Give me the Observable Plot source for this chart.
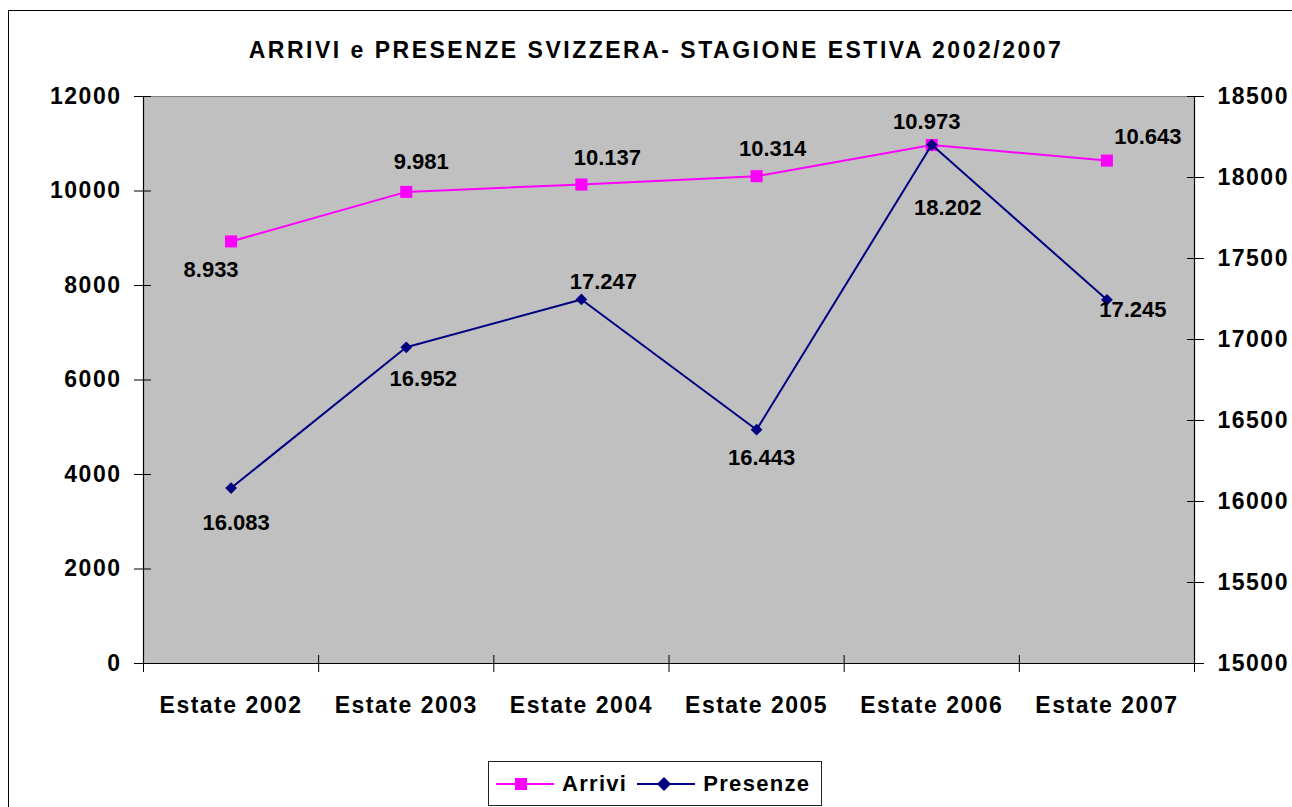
<!DOCTYPE html>
<html>
<head>
<meta charset="utf-8">
<script src="https://cdn.jsdelivr.net/npm/d3@7"></script>
<script src="https://cdn.jsdelivr.net/npm/@observablehq/plot@0.6"></script>
<style>
  html, body { margin: 0; padding: 0; background: #fff; overflow: hidden; width: 1292px; height: 807px; }
  #page { position: relative; width: 1292px; height: 807px; font-family: "Liberation Sans", Arial, sans-serif; }
  #chart { position: absolute; left: 0; top: 0; z-index: 1; }
  .edge { position: absolute; background: #000; z-index: 2; }
  #edgeLeft { left: 8px; top: 10px; width: 1px; height: 800px; }
  #edgeTop { left: 8px; top: 10px; width: 1290px; height: 1px; }
  #title { position: absolute; left: 0; top: 36px; width: 1312px; height: 28px; line-height: 28px; text-align: center; font-size: 23px; font-weight: bold; letter-spacing: 2.5px; color: #000; z-index: 2; }
  #chart g[aria-label$="tick label"] text { letter-spacing: 1.5px; }
  #legend { position: absolute; left: 488px; top: 761px; width: 334px; height: 45px; box-sizing: border-box; border: 1px solid #222; background: #fff; display: flex; align-items: center; padding-left: 7px; font-size: 22px; font-weight: bold; letter-spacing: 1.3px; z-index: 2; }
  #legend .item { display: flex; align-items: center; }
  #legend svg { display: block; }
</style>
</head>
<body>
<div id="page">
  <div id="chart"></div>
  <div id="edgeLeft" class="edge"></div>
  <div id="edgeTop" class="edge"></div>
  <div id="title">ARRIVI e PRESENZE SVIZZERA- STAGIONE ESTIVA 2002/2007</div>
  <div id="legend"></div>
</div>
<script>
// ---- data ----
const categories = ["Estate 2002", "Estate 2003", "Estate 2004", "Estate 2005", "Estate 2006", "Estate 2007"];
const arrivi = [8933, 9981, 10137, 10314, 10973, 10643];
const presenze = [16083, 16952, 17247, 16443, 18202, 17245];
const leftTicks = [0, 2000, 4000, 6000, 8000, 10000, 12000];
const rightTicks = [15000, 15500, 16000, 16500, 17000, 17500, 18000, 18500];
const seriesNames = ["Arrivi", "Presenze"];
// label offsets (px, relative to the point)
const arriviLabelOffset = [[-20, 29], [15, -30], [26, -27], [16, -27], [-5, -23], [41, -24]];
const presenzeLabelOffset = [[5, 35], [17, 32], [22, -18], [5, 28], [16, 63], [26, 10]];

const colArrivi = "#ff00ff";
const colPresenze = "#000080";

const leftMax = 12000, rightMin = 15000, rightMax = 18500;
const toLeft = v => (v - rightMin) * leftMax / (rightMax - rightMin);
const fromLeft = v => Math.round(rightMin + v * (rightMax - rightMin) / leftMax);
const itFmt = d3.formatLocale({decimal: ",", thousands: ".", grouping: [3], currency: ["", "€"]}).format(",");

const rows = categories.map((c, i) => ({i, cat: c, arrivi: arrivi[i], presenze: presenze[i]}));
const xPos = d => d.i + 0.5;

const labelMarks = [];
rows.forEach((d, i) => {
  labelMarks.push(Plot.text([d], {x: xPos, y: "arrivi", text: r => itFmt(r.arrivi), dx: arriviLabelOffset[i][0], dy: arriviLabelOffset[i][1], fontSize: 22, fontWeight: "bold", fill: "#000"}));
  labelMarks.push(Plot.text([d], {x: xPos, y: r => toLeft(r.presenze), text: r => itFmt(r.presenze), dx: presenzeLabelOffset[i][0], dy: presenzeLabelOffset[i][1], fontSize: 22, fontWeight: "bold", fill: "#000"}));
});

const chart = Plot.plot({
  width: 1292,
  height: 740,
  marginLeft: 143,
  marginRight: 98,
  marginTop: 96,
  marginBottom: 77,
  x: {type: "linear", domain: [0, categories.length], axis: null, label: null},
  y: {domain: [0, leftMax], axis: null, label: null},
  style: {fontFamily: "'Liberation Sans', Arial, sans-serif", fontWeight: "bold", background: "transparent", color: "#000", overflow: "visible"},
  marks: [
    Plot.frame({fill: "#c0c0c0", stroke: "#808080"}),
    Plot.ruleY([0], {stroke: "#000", strokeWidth: 1.2}),
    Plot.ruleX([0, categories.length], {stroke: "#000", strokeWidth: 1.2}),
    Plot.axisY(leftTicks, {anchor: "left", label: null, tickSize: 17, dx: 8, tickPadding: 13, tickFormat: d => String(d), fontSize: 23, fontWeight: "bold"}),
    Plot.axisY(rightTicks.map(toLeft), {anchor: "right", label: null, tickSize: 17, dx: -8, tickPadding: 14, tickFormat: d => String(fromLeft(d)), fontSize: 23, fontWeight: "bold"}),
    Plot.axisX(d3.range(categories.length + 1), {anchor: "bottom", label: null, tickSize: 17, dy: -8, tickFormat: () => ""}),
    Plot.axisX(d3.range(categories.length).map(i => i + 0.5), {anchor: "bottom", label: null, tickSize: 0, tickPadding: 33, tickFormat: d => categories[Math.round(d - 0.5)], fontSize: 23, fontWeight: "bold"}),
    Plot.line(rows, {x: xPos, y: "arrivi", stroke: colArrivi, strokeWidth: 2}),
    Plot.dot(rows, {x: xPos, y: "arrivi", symbol: "square", r: 6.8, fill: colArrivi, stroke: null}),
    Plot.line(rows, {x: xPos, y: d => toLeft(d.presenze), stroke: colPresenze, strokeWidth: 2}),
    Plot.dot(rows, {x: xPos, y: d => toLeft(d.presenze), symbol: "diamond2", r: 5.3, fill: colPresenze, stroke: null}),
    ...labelMarks
  ]
});
document.getElementById("chart").appendChild(chart);

// ---- legend ----
const legend = d3.select("#legend");
function legendItem(name, color, shape, gap) {
  const item = legend.append("div").attr("class", "item").style("margin-right", gap + "px");
  const svg = item.append("svg").attr("width", 58).attr("height", 20);
  svg.append("line").attr("x1", 0).attr("x2", 58).attr("y1", 10).attr("y2", 10).attr("stroke", color).attr("stroke-width", 2);
  if (shape === "square") {
    svg.append("rect").attr("x", 19).attr("y", 4).attr("width", 12).attr("height", 12).attr("fill", color);
  } else {
    svg.append("path").attr("d", "M27,3L34,10L27,17L20,10Z").attr("fill", color);
  }
  item.append("span").style("margin-left", "8px").text(name);
}
legendItem(seriesNames[0], colArrivi, "square", 10);
legendItem(seriesNames[1], colPresenze, "diamond", 0);
</script>
</body>
</html>
